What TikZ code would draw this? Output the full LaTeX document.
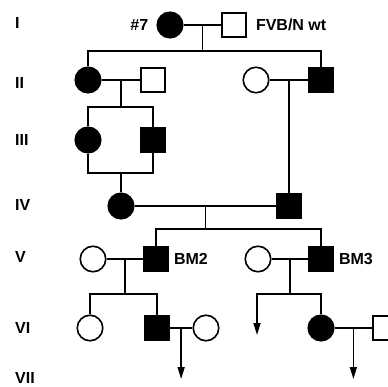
\documentclass[tikz,border=0pt]{standalone}
\usepackage{fontspec}
\setmainfont{Liberation Sans}
\usetikzlibrary{arrows.meta, positioning}

\tikzset{
  female/.style={circle, draw, line width=1.6pt, minimum size=25.5pt, inner sep=0pt},
  male/.style={rectangle, draw, line width=1.6pt, minimum size=24pt, inner sep=0pt},
  aff/.style={fill=black},
  tag/.style={font=\bfseries\fontsize{16}{18}\selectfont, inner sep=0pt},
  link/.style={line width=1.6pt},
  desc/.style={line width=1.6pt, -{Triangle[length=12pt,width=7pt]}}
}

\begin{document}
\begin{tikzpicture}[x=1pt, y=-1pt]
\useasboundingbox (0,0) rectangle (388,387);
% Generation numbers
\foreach \g/\lab in {23/I, 83/II, 140/III, 205/IV, 257/V, 328/VI, 378/VII} {
  \node [tag, anchor=west] (gen\lab) at (15,\g) {\lab};
}
% Generation I
\node [female, aff] (I1) at (170,25) {};
\node [male] (I2) at (234,25) {};
\node [tag, left=8pt of I1] (n7) {\#7};
\node [tag, right=9pt of I2] (wt) {FVB/N wt};
\draw [link] (I1) -- (I2) coordinate [midway] (c1);
\draw [link] (c1) -- ++(0,26) coordinate (s1);
% Generation II
\node [female, aff] (II1) at (88,80) {};
\node [male] (II2) at (153,80) {};
\node [female] (II3) at (256,80) {};
\node [male, aff] (II4) at (321,80) {};
\draw [link] (II1) |- (s1) -| (II4);
\draw [link] (II1) -- (II2) coordinate [midway] (c2);
\draw [link] (II3) -- (II4) coordinate [midway] (c3);
\draw [link] (c2) -- ++(0,27) coordinate (s2);
% Generation III
\node [female, aff] (III1) at (88,140) {};
\node [male, aff] (III2) at (153,140) {};
\draw [link] (III1) |- (s2) -| (III2);
\coordinate (s3) at (121,173);
\draw [link] (III1) |- (s3) -| (III2);
% Generation IV
\node [female, aff] (IV1) at (s3 |- 0,206) {};
\node [male, aff] (IV2) at (c3 |- 0,206) {};
\draw [link] (s3) -- (IV1);
\draw [link] (c3) -- (IV2);
\draw [link] (IV1) -- (IV2) coordinate [midway] (c4);
\draw [link] (c4) -- ++(0,23) coordinate (s4);
% Generation V
\node [female] (V1) at (93,259) {};
\node [male, aff] (V2) at (156,259) {};
\node [female] (V3) at (258,259) {};
\node [male, aff] (V4) at (321,259) {};
\node [tag, right=5pt of V2] (bm2) {BM2};
\node [tag, right=5pt of V4] (bm3) {BM3};
\draw [link] (V2) |- (s4) -| (V4);
\draw [link] (V1) -- (V2) coordinate [midway] (c5);
\draw [link] (V3) -- (V4) coordinate [midway] (c6);
\draw [link] (c5) -- ++(0,35) coordinate (s5);
\draw [link] (c6) -- ++(0,35) coordinate (s6);
% Generation VI
\node [female] (VI1) at (90,328) {};
\node [male, aff] (VI2) at (157,328) {};
\node [female] (VI3) at (206,328) {};
\node [female, aff] (VI4) at (321,328) {};
\node [male] (VI5) at (385,328) {};
\draw [link] (VI1) |- (s5) -| (VI2);
\coordinate (e1) at (257,335);
\draw [desc] (VI4) |- (e1 |- s6) -- (e1);
\draw [link] (VI2) -- (VI3) coordinate [midway] (c7);
\draw [link] (VI4) -- (VI5) coordinate [midway] (c8);
% Generation VII
\draw [desc] (c7) -- ++(0,51) coordinate (e2);
\draw [desc] (c8) -- ++(0,51) coordinate (e3);
\end{tikzpicture}
\end{document}
